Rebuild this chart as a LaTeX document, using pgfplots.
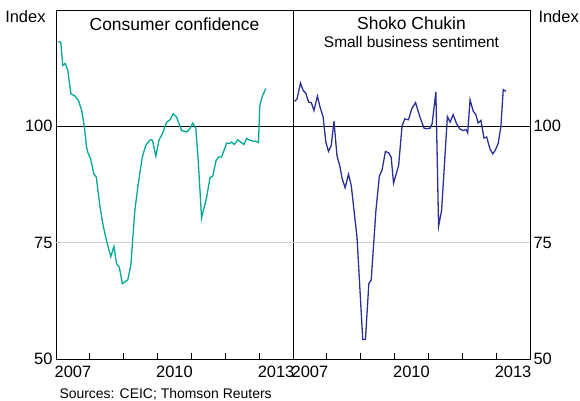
\documentclass[border=0pt]{standalone}
\usepackage{fontspec}
\setmainfont{Liberation Sans}
\usepackage{pgfplots}
\pgfplotsset{compat=1.18}
\definecolor{cconf}{RGB}{0,168,150}
\definecolor{shoko}{RGB}{44,48,148}
\definecolor{gridgrey}{RGB}{205,205,205}

\pgfplotsset{
  panel/.style={
    scale only axis,
    width=237bp, height=349bp,
    anchor=south west,
    xmin=2007, xmax=2014,
    ymin=50, ymax=125,
    ytick={50,75,100},
    xtick={2007.5,2010.5,2013.5},
    xticklabels={2007,2010,2013},
    minor xtick={2008,2009,2010,2011,2012,2013},
    xtick pos=bottom,
    tick align=inside,
    major tick length=0pt,
    minor tick length=6bp,
    every tick/.style={black, line width=0.8pt},
    axis line style={black, line width=0.8pt},
    tick label style={font=\fontsize{16.5}{18}\selectfont},
    xticklabel style={yshift=-4bp},
    /pgf/number format/assume math mode=true,
    clip=false,
  },
  guides/.style={
    execute at begin axis={
      \draw[gridgrey, line width=0.8pt] (axis cs:2007,75) -- (axis cs:2014,75);
      \draw[black, line width=0.8pt] (axis cs:2007,100) -- (axis cs:2014,100);
    }
  }
}

\begin{document}
\begin{tikzpicture}
\useasboundingbox (0,0) rectangle (580bp,401bp);

% Consumer confidence
\begin{axis}[panel, guides, at={(56bp,42bp)}, ytick pos=left]
\addplot[cconf, line width=1.3pt] coordinates {
(2007.07,118.2) (2007.14,118.1) (2007.20,113.1) (2007.27,113.5) (2007.35,112.0)
(2007.44,107.0) (2007.56,106.5) (2007.66,105.6) (2007.76,103.4) (2007.84,99.9)
(2007.90,95.6) (2007.95,94.2) (2008.02,93.1) (2008.12,89.7) (2008.19,89.1)
(2008.30,82.7) (2008.40,78.4) (2008.50,75.2) (2008.62,72.0) (2008.71,74.2)
(2008.79,70.5) (2008.87,69.7) (2008.96,66.2) (2009.12,67.0) (2009.21,70.2)
(2009.33,82.0) (2009.43,87.7) (2009.55,93.4) (2009.65,95.9) (2009.78,97.1)
(2009.85,97.0) (2009.95,93.6) (2010.04,97.0) (2010.14,98.4) (2010.27,100.9)
(2010.37,101.4) (2010.46,102.7) (2010.56,102.0) (2010.71,99.1) (2010.86,98.8)
(2010.96,99.5) (2011.04,100.7) (2011.13,99.5) (2011.20,92.7) (2011.30,80.3)
(2011.45,84.8) (2011.55,89.0) (2011.63,89.3) (2011.73,92.7) (2011.81,93.4)
(2011.89,93.4) (2012.04,96.4) (2012.12,96.3) (2012.19,96.6) (2012.27,96.1)
(2012.37,97.1) (2012.46,96.6) (2012.55,96.1) (2012.63,97.4) (2012.73,97.0)
(2012.83,96.8) (2012.91,96.8) (2012.98,96.5) (2013.02,104.5) (2013.10,106.6)
(2013.20,108.1)
};
\node[font=\fontsize{17.5}{19}\selectfont] at ([yshift=-14bp]rel axis cs:0.5,1) {Consumer confidence};
\node[anchor=east, font=\fontsize{16.5}{18}\selectfont] at ([xshift=-7bp, yshift=-7bp]rel axis cs:0,1) {Index};
\node[anchor=west, font=\fontsize{14}{16}\selectfont] at ([yshift=-35bp]rel axis cs:0,0) {Sources: CEIC; Thomson Reuters};
\end{axis}

% Shoko Chukin
\begin{axis}[panel, guides, at={(293bp,42bp)}, ytick pos=right, yticklabel pos=right]
\addplot[shoko, line width=1.3pt] coordinates {
(2007.05,105.4) (2007.12,105.9) (2007.22,109.3) (2007.30,107.7) (2007.38,107.1)
(2007.46,105.2) (2007.54,105.1) (2007.62,103.4) (2007.72,106.5) (2007.80,104.1)
(2007.89,102.0) (2007.97,96.6) (2008.05,94.6) (2008.13,95.9) (2008.21,101.1)
(2008.30,93.6) (2008.38,91.6) (2008.45,88.8) (2008.54,86.8) (2008.64,89.7)
(2008.72,87.3) (2008.89,76.2) (2009.06,54.2) (2009.14,54.2) (2009.24,66.2)
(2009.31,67.0) (2009.45,82.0) (2009.55,89.3) (2009.63,90.6) (2009.73,94.6)
(2009.83,94.3) (2009.90,93.3) (2009.97,87.8) (2010.12,91.6) (2010.22,100.0)
(2010.30,101.6) (2010.41,101.4) (2010.51,103.8) (2010.62,105.1) (2010.75,102.0)
(2010.87,99.6) (2010.95,99.5) (2011.05,99.6) (2011.11,100.6) (2011.22,107.4)
(2011.30,78.5) (2011.39,82.0) (2011.56,102.1) (2011.64,100.9) (2011.73,102.5)
(2011.83,100.6) (2011.93,99.4) (2012.03,99.1) (2012.11,99.3) (2012.16,98.6)
(2012.23,105.7) (2012.32,103.3) (2012.40,102.5) (2012.47,100.7) (2012.55,101.3)
(2012.64,97.5) (2012.72,97.7) (2012.82,95.1) (2012.90,94.1) (2012.97,94.8)
(2013.06,96.3) (2013.14,99.9) (2013.21,107.9) (2013.29,107.5)
};
\node[font=\fontsize{17.5}{19}\selectfont] at ([yshift=-13bp]rel axis cs:0.5,1) {Shoko Chukin};
\node[font=\fontsize{15.5}{17}\selectfont] at ([yshift=-32bp]rel axis cs:0.5,1) {Small business sentiment};
\node[anchor=west, font=\fontsize{16.5}{18}\selectfont] at ([xshift=5bp, yshift=-7bp]rel axis cs:1,1) {Index};
\end{axis}
\end{tikzpicture}
\end{document}
